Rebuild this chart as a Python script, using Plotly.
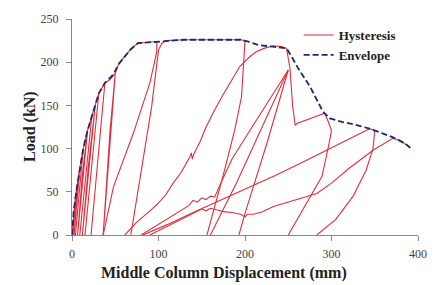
import plotly.graph_objects as go

# ---------------- data ----------------
env_x = [0, 2, 5, 9, 13, 18, 22, 27, 31, 38, 48, 54, 61, 68, 76, 98, 108, 130, 160, 195,
         203, 215, 232, 248, 253, 262, 275, 290, 298, 312, 330, 344, 358, 371, 385, 391]
env_y = [0, 28, 50, 78, 100, 121, 134, 151, 164, 176, 186, 198, 207, 215, 222, 223.5, 225, 226, 226, 226,
         224, 220, 218, 216, 208, 192, 172, 143, 135, 131, 127, 123, 118, 113, 106, 101]

small_x = [0, 2, 4, 1, 2.5, 5, 9, 2.5, 5, 9, 13, 4, 9, 13, 18, 6.5, 12, 18, 23, 9, 16, 23, 27,
           12, 19, 27, 31, 15, 24, 31, 38, 22, 30, 38, 44, 50, 36, 44, 50, 54, 61, 68, 76, 98]
small_y = [0, 28, 45, 0, 30, 52, 78, 0, 40, 78, 100, 0, 60, 100, 121, 0, 70, 121, 138, 0, 75, 138, 151,
           0, 80, 151, 164, 0, 90, 164, 176, 0, 95, 176, 180, 187, 0, 121, 187, 198, 207, 215, 222, 224]

unl100_x = [98, 98, 90, 71, 48, 36]
unl100_y = [224, 212, 176, 118, 56, 0]

rel100_x = [68, 78.6, 92, 100, 104, 108, 130, 160, 195, 200]
rel100_y = [0, 64, 148, 214, 222, 225, 226, 226, 226, 225]

unl200_x = [200, 199, 196, 188, 175, 156]
unl200_y = [225, 205, 160, 121, 70, 0]

relB_x = [61, 75, 90, 98, 108, 117, 126, 132, 136, 138, 139, 141, 148, 155, 165, 175, 185,
          194, 205, 213, 222, 233, 242, 248]
relB_y = [0, 15, 28, 35, 46, 60, 72, 82, 90, 95, 88, 94, 108, 125, 145, 163, 180,
          195, 206, 212, 216, 219, 218, 216]

drop_x = [248, 250, 252, 255, 257, 258, 260, 265, 275, 285, 292, 296, 298, 300]
drop_y = [216, 205, 193, 150, 132, 127, 129, 131, 135, 139, 141, 132, 125, 121]

unl300_x = [300, 297, 289, 273, 262, 250]
unl300_y = [121, 105, 68, 40, 20, 0]

relN_x = [80, 100, 120, 135, 140, 145, 150, 155, 160, 165, 172, 185, 200, 225, 250]
relN_y = [0, 12, 24, 34, 40, 38, 43, 41, 45, 44, 60, 88, 112, 152, 191]

steep_x = [193, 200, 225, 250]
steep_y = [0, 25, 105, 191]

unl250_x = [250, 220, 190, 160]
unl250_y = [191, 125, 60, 0]

rel1_x = [82, 110, 140, 171, 200, 235, 270, 298, 320, 344]
rel1_y = [0, 12, 26, 40, 54, 69, 86, 100, 111, 123]

unl350_x = [344, 350, 348, 340, 325, 305, 283]
unl350_y = [123, 121, 100, 75, 45, 18, 0]

rel2_x = [90, 110, 125, 144, 150, 155, 160, 168, 175, 185, 195, 200, 203, 210, 220, 233, 250,
          271, 283, 300, 320, 348, 371, 380, 391]
rel2_y = [0, 10, 18, 27, 30, 28, 31, 29, 27, 26, 24, 21, 24, 24, 27, 33, 38,
          44, 48, 60, 77, 98, 112, 109, 101]

x_ticks = [0, 100, 200, 300, 400]
y_ticks = [0, 50, 100, 150, 200, 250]

x_title = "Middle Column Displacement (mm)"
y_title = "Load (kN)"

# ---------------- assemble hysteresis path ----------------
segments = [(small_x, small_y), (unl100_x, unl100_y), (rel100_x, rel100_y),
            (unl200_x, unl200_y), (relB_x, relB_y), (drop_x, drop_y),
            (unl300_x, unl300_y), (relN_x, relN_y), (steep_x, steep_y),
            (unl250_x, unl250_y), (rel1_x, rel1_y), (unl350_x, unl350_y),
            (rel2_x, rel2_y)]
hx, hy = [], []
for sx, sy in segments:
    hx += list(sx) + [None]
    hy += list(sy) + [None]

serif = "Liberation Serif, Times New Roman, serif"

fig = go.Figure()
fig.add_trace(go.Scatter(x=hx, y=hy, mode="lines", name="Hysteresis",
                         line=dict(color="rgb(228,45,60)", width=1.1),
                         connectgaps=False))
fig.add_trace(go.Scatter(x=env_x, y=env_y, mode="lines", name="Envelope",
                         line=dict(color="rgb(35,40,110)", width=1.8, dash="6px,3px")))

fig.update_layout(
    width=438, height=285,
    margin=dict(l=72, r=20, t=19, b=50, autoexpand=False),
    paper_bgcolor="white", plot_bgcolor="white",
    font=dict(family=serif, size=12, color="#333"),
    showlegend=True,
    legend=dict(x=0.655, y=0.995, xanchor="left", yanchor="top",
                bgcolor="rgba(0,0,0,0)", itemwidth=30,
                font=dict(family=serif, size=13, color="#222", weight="bold"),
                tracegroupgap=0),
    xaxis=dict(range=[0, 400], tickvals=x_ticks, ticks="outside", ticklen=5,
               showline=True, linecolor="#888", linewidth=1, tickcolor="#888",
               showgrid=False, zeroline=False, automargin=False,
               ticklabelstandoff=3,
               tickfont=dict(family=serif, size=12, color="#444")),
    yaxis=dict(range=[0, 250], tickvals=y_ticks, ticks="outside", ticklen=5,
               showline=True, linecolor="#888", linewidth=1, tickcolor="#888",
               showgrid=False, zeroline=False, automargin=False,
               ticklabelstandoff=5,
               tickfont=dict(family=serif, size=12, color="#444")),
    annotations=[
        dict(text="<b>" + x_title + "</b>", xref="paper", yref="paper",
             x=(224 - 72) / 346, y=(235 - 273) / 216, xanchor="center", yanchor="middle",
             showarrow=False, font=dict(family=serif, size=16, color="#222")),
        dict(text="<b>" + y_title + "</b>", xref="paper", yref="paper",
             x=(30 - 72) / 346, y=0.5, xanchor="center", yanchor="middle", textangle=-90,
             showarrow=False, font=dict(family=serif, size=16, color="#222")),
    ],
)

fig.write_html("out.html", config={"displayModeBar": False},
               post_script="document.body.style.margin='0px';")
